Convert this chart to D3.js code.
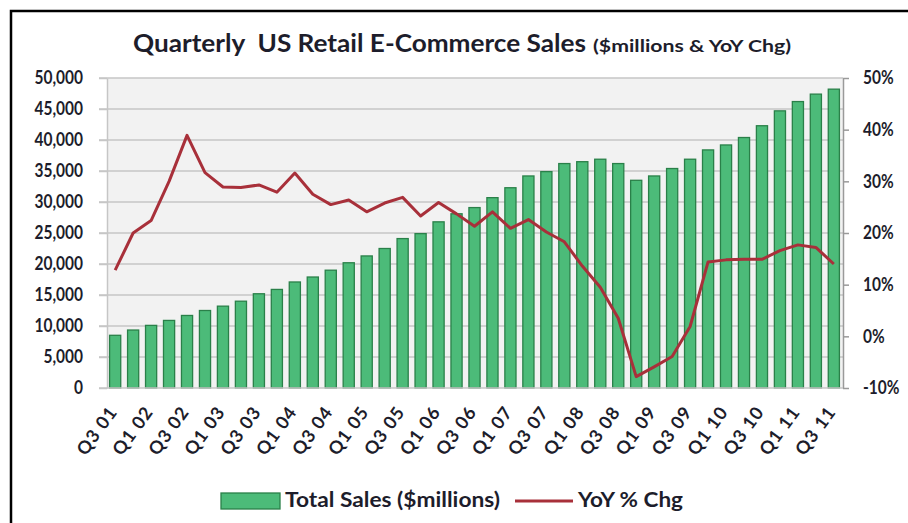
<!DOCTYPE html>
<html>
<head>
<meta charset="utf-8">
<script src="https://cdn.jsdelivr.net/npm/d3@7"></script>
<style>
  body { margin: 0; background: #fff; }
  text { font-family: Lato, "Open Sans", sans-serif; font-weight: bold; fill: #1d1d2b; }
</style>
</head>
<body>
<svg id="chart" width="908" height="523"></svg>
<script>
// quarter labels, Q3 2001 .. Q3 2011
var quarters = ["Q3 01","Q4 01","Q1 02","Q2 02","Q3 02","Q4 02","Q1 03","Q2 03","Q3 03","Q4 03",
  "Q1 04","Q2 04","Q3 04","Q4 04","Q1 05","Q2 05","Q3 05","Q4 05","Q1 06","Q2 06",
  "Q3 06","Q4 06","Q1 07","Q2 07","Q3 07","Q4 07","Q1 08","Q2 08","Q3 08","Q4 08",
  "Q1 09","Q2 09","Q3 09","Q4 09","Q1 10","Q2 10","Q3 10","Q4 10","Q1 11","Q2 11","Q3 11"];

// total sales, $ millions
var sales = [8500, 9350, 10100, 10900, 11700, 12500, 13200, 14000, 15200, 15900,
  17100, 17900, 19000, 20200, 21300, 22500, 24100, 24900, 26800, 28100,
  29100, 30700, 32300, 34200, 34900, 36200, 36500, 36900, 36200, 33500,
  34200, 35400, 36900, 38400, 39200, 40400, 42300, 44700, 46200, 47400, 48200];

// year over year change, %
var yoy = [12.8, 20.0, 22.4, 30.0, 38.9, 31.7, 28.9, 28.8, 29.3, 27.9,
  31.6, 27.5, 25.5, 26.4, 24.1, 25.8, 26.9, 23.3, 25.9, 23.7,
  21.3, 24.1, 20.9, 22.6, 20.2, 18.3, 13.6, 9.5, 3.5, -7.8,
  -5.9, -3.9, 1.9, 14.4, 14.8, 14.9, 14.9, 16.6, 17.7, 17.2, 14.0];

var leftTicks = [0, 5000, 10000, 15000, 20000, 25000, 30000, 35000, 40000, 45000, 50000];
var rightTicks = [-10, 0, 10, 20, 30, 40, 50];

const plotL = 107, plotR = 843, plotT = 78, plotB = 388;
const stretch = 1.2; // text in the picture is a little taller than wide

var svg = d3.select("#chart");

// frame
svg.append("rect").attr("x", 11).attr("y", 11).attr("width", 1000).attr("height", 1000)
  .attr("fill", "none").attr("stroke", "#000").attr("stroke-width", 2.5);

var x = d3.scaleBand().domain(quarters).range([plotL - 1, plotR]).paddingInner(0.38).paddingOuter(0.2);
var y = d3.scaleLinear().domain([0, 50000]).range([plotB, plotT]);
var y2 = d3.scaleLinear().domain([-10, 50]).range([plotB, plotT]);

svg.append("rect").attr("x", plotL).attr("y", plotT).attr("width", plotR - plotL).attr("height", plotB - plotT)
  .attr("fill", "#f2f2f2");

// gridlines
svg.append("g").selectAll("line").data(leftTicks.slice(1)).join("line")
  .attr("x1", plotL - 8).attr("x2", plotR).attr("y1", d => y(d)).attr("y2", d => y(d))
  .attr("stroke", "#c6c6c6").attr("stroke-width", 1.5);

// left axis
var gl = svg.append("g").attr("transform", "translate(" + plotL + ",0)")
  .call(d3.axisLeft(y).tickValues(leftTicks).tickFormat(d3.format(",")).tickSize(8).tickSizeOuter(0).tickPadding(16));
gl.select(".domain").attr("stroke", "#c6c6c6").attr("stroke-width", 1.5);
gl.selectAll(".tick line").attr("stroke", "#c6c6c6").attr("stroke-width", 1.5);
gl.selectAll(".tick text").attr("font-size", 15.5).attr("transform", "scale(1," + stretch + ")");

// right axis
var gr = svg.append("g").attr("transform", "translate(" + plotR + ",0)")
  .call(d3.axisRight(y2).tickValues(rightTicks).tickFormat(d => d + "%").tickSize(6).tickSizeOuter(0).tickPadding(14));
gr.select(".domain").attr("stroke", "#9a9a9a").attr("stroke-width", 1.5);
gr.selectAll(".tick line").attr("stroke", "#9a9a9a").attr("stroke-width", 1.5);
gr.selectAll(".tick text").attr("font-size", 15.5).attr("transform", "scale(1," + stretch + ")");

// bars
svg.append("g").selectAll("rect").data(sales).join("rect")
  .attr("x", (d, i) => x(quarters[i]))
  .attr("y", d => y(d))
  .attr("width", x.bandwidth())
  .attr("height", d => plotB - y(d))
  .attr("fill", "#4cbb79")
  .attr("stroke", "#2a8049")
  .attr("stroke-width", 1.3);

// bottom axis line
svg.append("line").attr("x1", plotL - 8).attr("x2", plotR).attr("y1", plotB).attr("y2", plotB)
  .attr("stroke", "#c6c6c6").attr("stroke-width", 1.5);

// x labels, every other quarter
svg.append("g").selectAll("text").data(quarters.filter((q, i) => i % 2 == 0)).join("text")
  .attr("text-anchor", "end")
  .attr("font-size", 18)
  .attr("letter-spacing", 1)
  .attr("transform", d => "translate(" + (x(d) + x.bandwidth() / 2 + 3) + "," + (plotB + 24) + ") rotate(-54)")
  .text(d => d);

// yoy line
var line = d3.line().x((d, i) => x(quarters[i]) + x.bandwidth() / 2).y(d => y2(d));
svg.append("path").datum(yoy).attr("d", line)
  .attr("fill", "none").attr("stroke", "#a8303a").attr("stroke-width", 3).attr("stroke-linejoin", "round");

function label(txt, px, py, size, len) {
  return svg.append("text")
    .attr("transform", "translate(" + px + "," + py + ") scale(1," + stretch + ")")
    .attr("font-size", size)
    .attr("xml:space", "preserve")
    .attr("textLength", len).attr("lengthAdjust", "spacingAndGlyphs")
    .text(txt);
}

// title
label("Quarterly  US Retail E-Commerce Sales", 133, 52, 21, 453);
label("($millions & YoY Chg)", 593, 52, 14, 198);

// legend
svg.append("rect").attr("x", 221).attr("y", 493).attr("width", 59).attr("height", 16)
  .attr("fill", "#4cbb79").attr("stroke", "#2a8049").attr("stroke-width", 1.3);
label("Total Sales ($millions)", 285, 507, 17, 215);
svg.append("line").attr("x1", 515).attr("x2", 573).attr("y1", 501).attr("y2", 501)
  .attr("stroke", "#a8303a").attr("stroke-width", 3);
label("YoY % Chg", 578, 507, 17, 105);
</script>
</body>
</html>
